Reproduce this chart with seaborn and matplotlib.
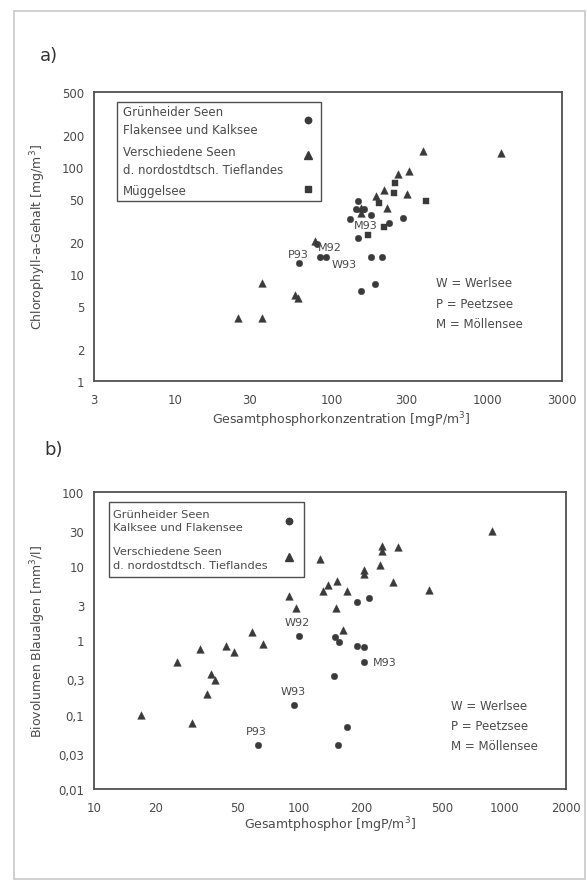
import numpy as np
import pandas as pd
import matplotlib
matplotlib.use("Agg")
import matplotlib.pyplot as plt
import seaborn as sns
from matplotlib.lines import Line2D
from matplotlib.ticker import FixedLocator, FixedFormatter, NullLocator
from matplotlib.patches import Rectangle

sns.set_theme(style="white")
plt.rcParams["font.family"] = ["DejaVu Sans"]

# ---------------- data: panel a ----------------
a_series = ["Grünheider Seen\nFlakensee und Kalksee",
            "Verschiedene Seen\nd. nordostdtsch. Tieflandes",
            "Müggelsee"]
a_gruen_x = [62, 81, 84, 92, 147, 143, 161, 179, 131, 147, 179, 209, 154, 191, 234, 289]
a_gruen_y = [12.6, 19, 14.5, 14.5, 48, 40, 40, 35.6, 32.7, 21.5, 14.5, 14.5, 6.9, 8.1, 29.8, 33.2]
a_versch_x = [25, 36, 36, 58, 61, 78, 154, 155, 192, 216, 227, 265, 305, 315, 385, 1220]
a_versch_y = [3.9, 3.9, 8.3, 6.3, 5.9, 20.5, 41, 37, 53, 61, 41, 85, 56, 91, 140, 135]
a_mueggel_x = [170, 217, 202, 250, 255, 403]
a_mueggel_y = [23, 27.7, 46, 57, 71, 48]
a_xticks = [3, 10, 30, 100, 300, 1000, 3000]
a_xticklabels = ["3", "10", "30", "100", "300", "1000", "3000"]
a_yticks = [1, 2, 5, 10, 20, 50, 100, 200, 500]
a_yticklabels = ["1", "2", "5", "10", "20", "50", "100", "200", "500"]
a_lab_text = ["P93", "M92", "W93", "M93"]
a_lab_x = [61, 82, 100, 166]
a_lab_y = [15.3, 18.0, 12.5, 28.7]
a_lab_ha = ["center", "left", "left", "center"]

# ---------------- data: panel b ----------------
b_series = ["Grünheider Seen\nKalksee und Flakensee",
            "Verschiedene Seen\nd. nordostdtsch. Tieflandes"]
b_gruen_x = [63, 94, 100, 148, 150, 155, 157, 171, 191, 192, 206, 206, 220]
b_gruen_y = [0.039, 0.135, 1.16, 0.33, 1.1, 0.039, 0.95, 0.069, 0.85, 3.3, 0.81, 0.51, 3.7]
b_versch_x = [17, 25.5, 30, 33, 35.5, 37, 39, 44, 48, 59, 67, 89, 97, 126, 131, 139, 151,
              153, 163, 172, 206, 206, 248, 253, 253, 288, 305, 428, 870]
b_versch_y = [0.1, 0.51, 0.077, 0.77, 0.19, 0.35, 0.29, 0.84, 0.69, 1.3, 0.9, 4.0, 2.7, 12.5,
              4.7, 5.6, 2.7, 6.4, 1.4, 4.7, 8.8, 7.8, 10.5, 18.5, 16, 6.1, 18, 4.8, 29.5]
b_xticks = [10, 20, 50, 100, 200, 500, 1000, 2000]
b_xticklabels = ["10", "20", "50", "100", "200", "500", "1000", "2000"]
b_yticks = [0.01, 0.03, 0.1, 0.3, 1, 3, 10, 30, 100]
b_yticklabels = ["0,01", "0,03", "0,1", "0,3", "1", "3", "10", "30", "100"]
b_lab_text = ["W92", "W93", "P93", "M93"]
b_lab_x = [98, 93.5, 62, 229]
b_lab_y = [1.77, 0.211, 0.061, 0.51]
b_lab_ha = ["center", "center", "center", "left"]

abbrev_lines = ["W = Werlsee", "P = Peetzsee", "M = Möllensee"]

# ---------------- styling ----------------
W, H = 587, 887
INK = "#3a3a3a"
TXT = "#4a4a4a"
FS = 8.5

fig = plt.figure(figsize=(W / 100, H / 100), dpi=100)
fig.patch.set_facecolor("white")


def axes_rect(l, t, r, b):
    return [l / W, 1 - b / H, (r - l) / W, (b - t) / H]


def pf(x, y):
    return x / W, 1 - y / H


# frame around the figure page
fig.patches.append(Rectangle(pf(14, 880), (585 - 14) / W, (880 - 12) / H,
                             transform=fig.transFigure, fill=False,
                             edgecolor="#c8c8c8", lw=1.2))

df_a = pd.DataFrame({
    "x": a_gruen_x + a_versch_x + a_mueggel_x,
    "y": a_gruen_y + a_versch_y + a_mueggel_y,
    "serie": [a_series[0]] * len(a_gruen_x) + [a_series[1]] * len(a_versch_x)
             + [a_series[2]] * len(a_mueggel_x),
})
df_b = pd.DataFrame({
    "x": b_gruen_x + b_versch_x,
    "y": b_gruen_y + b_versch_y,
    "serie": [b_series[0]] * len(b_gruen_x) + [b_series[1]] * len(b_versch_x),
})

marker_map_a = {a_series[0]: "o", a_series[1]: "^", a_series[2]: "s"}
marker_map_b = {b_series[0]: "o", b_series[1]: "^"}
size_map = {"o": 22, "^": 30, "s": 18}
msize_map = {"o": 4.6, "^": 5.4, "s": 4.2}


def style_axes(ax, xt, xtl, yt, ytl, xlim, ylim):
    ax.set_xscale("log")
    ax.set_yscale("log")
    ax.set_xlim(*xlim)
    ax.set_ylim(*ylim)
    ax.xaxis.set_major_locator(FixedLocator(xt))
    ax.xaxis.set_major_formatter(FixedFormatter(xtl))
    ax.yaxis.set_major_locator(FixedLocator(yt))
    ax.yaxis.set_major_formatter(FixedFormatter(ytl))
    ax.xaxis.set_minor_locator(NullLocator())
    ax.yaxis.set_minor_locator(NullLocator())
    ax.tick_params(axis="both", which="major", direction="inout", length=6, width=1,
                   colors=INK, labelcolor=TXT, labelsize=FS, pad=4)
    ax.tick_params(axis="x", pad=6)
    for s in ax.spines.values():
        s.set_visible(True)
        s.set_color("#505050")
        s.set_linewidth(1.3)
    ax.set_facecolor("white")
    ax.grid(False)


def scatter(ax, df, mmap):
    for name, m in mmap.items():
        sub = df[df["serie"] == name]
        sns.scatterplot(data=sub, x="x", y="y", marker=m, s=size_map[m],
                        color=INK, edgecolor=INK, linewidth=0.3, ax=ax, legend=False)


def manual_legend(ax, ax_box, names, mmap, box, text_x, line_ys, marker_x, marker_ys, fs):
    """ax_box = (left, top, right, bottom) of the axes in pixels; box likewise for legend."""
    l0, t0, r0, b0 = ax_box

    def fx(px):
        return (px - l0) / (r0 - l0)

    def fy(py):
        return (b0 - py) / (b0 - t0)

    bl, bt, br, bb = box
    ax.add_patch(Rectangle((fx(bl), fy(bb)), fx(br) - fx(bl), fy(bt) - fy(bb),
                           transform=ax.transAxes, fill=True, facecolor="white",
                           edgecolor="#505050", lw=1.0, zorder=4))
    lines = [ln for n in names for ln in n.split("\n")]
    for ln, py in zip(lines, line_ys):
        ax.text(fx(text_x), fy(py), ln, transform=ax.transAxes, ha="left", va="center",
                fontsize=fs, color=TXT, zorder=5)
    for n, py in zip(names, marker_ys):
        m = mmap[n]
        ax.add_line(Line2D([fx(marker_x)], [fy(py)], transform=ax.transAxes,
                           linestyle="none", marker=m, markersize=msize_map[m],
                           color=INK, zorder=5))


# ---------------- panel a ----------------
A_BOX = (94, 93, 562, 382)
ax1 = fig.add_axes(axes_rect(*A_BOX))
scatter(ax1, df_a, marker_map_a)
style_axes(ax1, a_xticks, a_xticklabels, a_yticks, a_yticklabels, (3, 3000), (1, 500))
ax1.set_xlabel("Gesamtphosphorkonzentration [mgP/m$^3$]", fontsize=FS + 0.5, color=TXT)
ax1.set_ylabel("Chlorophyll-a-Gehalt [mg/m$^3$]", fontsize=FS + 0.5, color=TXT)
ax1.xaxis.label.set_va("center")
ax1.yaxis.label.set_va("center")
ax1.xaxis.set_label_coords((341 - 94) / 468, (382 - 420) / 289)
ax1.yaxis.set_label_coords((38 - 94) / 468, 0.5)
manual_legend(ax1, A_BOX, a_series, marker_map_a, (117, 103, 321, 202), 123,
              [113, 130, 153, 170, 191], 308, [121, 156, 190], FS)
for t, x, y, ha in zip(a_lab_text, a_lab_x, a_lab_y, a_lab_ha):
    ax1.text(x, y, t, ha=ha, va="center", fontsize=FS - 0.5, color=TXT)
for i, line in enumerate(abbrev_lines):
    fig.text(*pf(436, 284 + 20 * i), line, ha="left", va="center", fontsize=FS, color=TXT)
fig.text(*pf(40, 56), "a)", ha="left", va="center", fontsize=13, color="#333333")

# ---------------- panel b ----------------
B_BOX = (94, 493, 566, 790)
ax2 = fig.add_axes(axes_rect(*B_BOX))
scatter(ax2, df_b, marker_map_b)
style_axes(ax2, b_xticks, b_xticklabels, b_yticks, b_yticklabels, (10, 2000), (0.01, 100))
ax2.set_xlabel("Gesamtphosphor [mgP/m$^3$]", fontsize=FS + 0.5, color=TXT)
ax2.set_ylabel("Biovolumen Blaualgen [mm$^3$/l]", fontsize=FS + 0.5, color=TXT)
ax2.xaxis.label.set_va("center")
ax2.yaxis.label.set_va("center")
ax2.xaxis.set_label_coords((330 - 94) / 472, (790 - 825) / 297)
ax2.yaxis.set_label_coords((38 - 94) / 472, 0.5)
manual_legend(ax2, B_BOX, b_series, marker_map_b, (109, 503, 304, 578), 113,
              [515, 528, 552, 566], 289, [522, 558], FS - 0.3)
for t, x, y, ha in zip(b_lab_text, b_lab_x, b_lab_y, b_lab_ha):
    ax2.text(x, y, t, ha=ha, va="center", fontsize=FS - 0.5, color=TXT)
for i, line in enumerate(abbrev_lines):
    fig.text(*pf(451, 707 + 20 * i), line, ha="left", va="center", fontsize=FS, color=TXT)
fig.text(*pf(44, 450), "b)", ha="left", va="center", fontsize=13, color="#333333")

fig.savefig("out.png", dpi=100, facecolor="white")
